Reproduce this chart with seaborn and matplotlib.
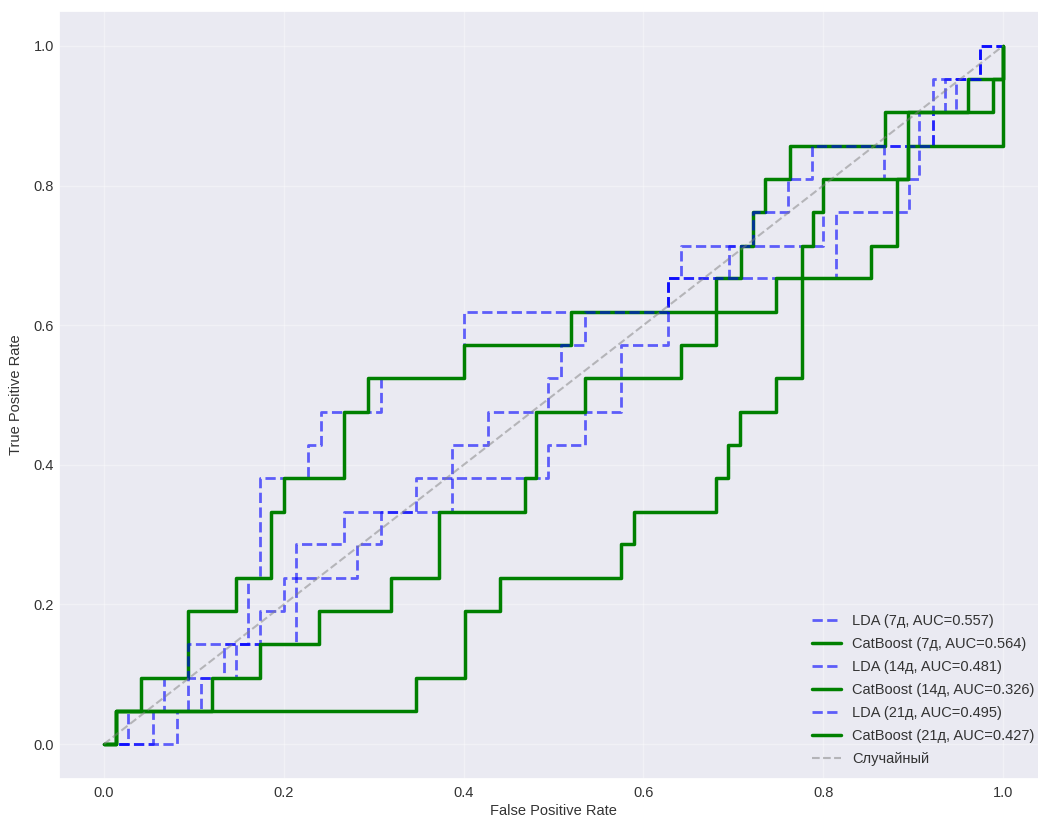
import matplotlib
matplotlib.use("Agg")
import matplotlib.pyplot as plt
import seaborn as sns

# ---- data (ROC step curves: FPR where the curve jumps, TPR after the jump)
lda7_fpr = [0.0265, 0.0673, 0.134, 0.1607, 0.1737, 0.2275, 0.2416, 0.308, 0.401, 0.627,
            0.695, 0.800, 0.868, 0.922, 0.948, 0.974]
lda7_tpr = [0.048, 0.095, 0.143, 0.238, 0.381, 0.429, 0.476, 0.524, 0.619, 0.667,
            0.714, 0.810, 0.857, 0.905, 0.952, 1.000]

cb7_fpr = [0.0135, 0.0414, 0.0932, 0.147, 0.186, 0.2008, 0.2668, 0.2942, 0.401, 0.5197,
           0.681, 0.708, 0.722, 0.735, 0.7625, 0.8685, 0.961, 1.000]
cb7_tpr = [0.048, 0.095, 0.190, 0.238, 0.333, 0.381, 0.476, 0.524, 0.571, 0.619,
           0.667, 0.714, 0.762, 0.810, 0.857, 0.905, 0.952, 1.000]

lda14_fpr = [0.0543, 0.0932, 0.1737, 0.2008, 0.2816, 0.3076, 0.387, 0.4277, 0.4937, 0.5085,
             0.5355, 0.627, 0.8144, 0.895, 0.907, 0.935, 0.974]
lda14_tpr = [0.048, 0.143, 0.190, 0.238, 0.286, 0.333, 0.429, 0.476, 0.524, 0.571,
             0.619, 0.667, 0.762, 0.810, 0.905, 0.952, 1.000]

cb14_fpr = [0.0135, 0.347, 0.402, 0.441, 0.575, 0.589, 0.681, 0.694, 0.707, 0.748,
            0.776, 0.789, 0.800, 0.894, 1.000]
cb14_tpr = [0.048, 0.095, 0.190, 0.238, 0.286, 0.333, 0.381, 0.429, 0.476, 0.524,
            0.714, 0.762, 0.810, 0.857, 1.000]

lda21_fpr = [0.081, 0.108, 0.147, 0.2138, 0.2668, 0.347, 0.4937, 0.535, 0.575, 0.627,
             0.642, 0.7217, 0.7606, 0.788, 0.922, 0.974]
lda21_tpr = [0.048, 0.095, 0.143, 0.286, 0.333, 0.381, 0.429, 0.476, 0.571, 0.667,
             0.714, 0.762, 0.810, 0.857, 0.952, 1.000]

cb21_fpr = [0.0135, 0.120, 0.1737, 0.2397, 0.3194, 0.373, 0.468, 0.481, 0.5345, 0.642,
            0.681, 0.748, 0.853, 0.882, 0.894, 0.989, 1.000]
cb21_tpr = [0.048, 0.095, 0.143, 0.190, 0.238, 0.333, 0.381, 0.476, 0.524, 0.571,
            0.619, 0.667, 0.714, 0.810, 0.905, 0.952, 1.000]

labels = ["LDA (7д, AUC=0.557)", "CatBoost (7д, AUC=0.564)",
          "LDA (14д, AUC=0.481)", "CatBoost (14д, AUC=0.326)",
          "LDA (21д, AUC=0.495)", "CatBoost (21д, AUC=0.427)"]
random_label = "Случайный"


def step_path(jx, jy):
    xs, ys = [0.0], [0.0]
    prev = 0.0
    for x, y in zip(jx, jy):
        xs += [x, x]
        ys += [prev, y]
        prev = y
    if xs[-1] < 1.0:
        xs.append(1.0)
        ys.append(prev)
    return xs, ys


sns.set_theme(style="darkgrid")
plt.rcParams["font.family"] = ["Liberation Sans", "DejaVu Sans"]
plt.rcParams["legend.frameon"] = False
plt.rcParams["grid.alpha"] = 0.35

fig = plt.figure(figsize=(10.38, 8.18), dpi=100)
ax = fig.add_axes([59 / 1038, 39 / 818, 989 / 1038, 768 / 818])

series = [
    (lda7_fpr, lda7_tpr, "lda"), (cb7_fpr, cb7_tpr, "cb"),
    (lda14_fpr, lda14_tpr, "lda"), (cb14_fpr, cb14_tpr, "cb"),
    (lda21_fpr, lda21_tpr, "lda"), (cb21_fpr, cb21_tpr, "cb"),
]
for (fx, ty, kind), lab in zip(series, labels):
    xs, ys = step_path(fx, ty)
    if kind == "lda":
        sns.lineplot(x=xs, y=ys, sort=False, estimator=None, ax=ax, color="blue",
                     linestyle="--", linewidth=2, alpha=0.6, label=lab)
    else:
        sns.lineplot(x=xs, y=ys, sort=False, estimator=None, ax=ax, color="green",
                     linestyle="-", linewidth=2.5, label=lab)

sns.lineplot(x=[0, 1], y=[0, 1], sort=False, estimator=None, ax=ax, color="gray",
             linestyle="--", linewidth=1.5, alpha=0.5, label=random_label)

ax.set_xlim(-0.05, 1.05)
ax.set_ylim(-0.05, 1.05)
ax.set_xticks([0.0, 0.2, 0.4, 0.6, 0.8, 1.0])
ax.set_yticks([0.0, 0.2, 0.4, 0.6, 0.8, 1.0])
ax.tick_params(axis="both", length=0, labelsize=10.5, colors="#333333")
ax.tick_params(axis="x", pad=5)
ax.tick_params(axis="y", pad=3.5)
ax.set_xlabel("False Positive Rate", fontsize=10.5, color="#333333", labelpad=3)
ax.set_ylabel("True Positive Rate", fontsize=10.5, color="#333333", labelpad=8)
ax.legend(loc="lower right", fontsize=10.5, labelcolor="#333333", labelspacing=0.62)

fig.savefig("out.png", dpi=100)
